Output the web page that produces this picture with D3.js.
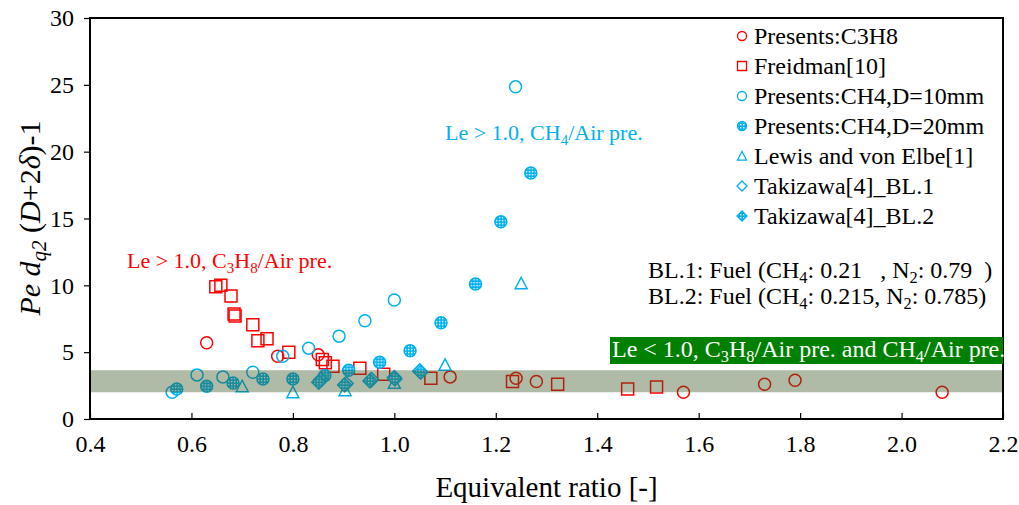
<!DOCTYPE html>
<html>
<head>
<meta charset="utf-8">
<script src="https://cdn.jsdelivr.net/npm/d3@7"></script>
<style>
body { margin: 0; background: #fff; }
svg, text { font-family: "Liberation Serif", "Times New Roman", serif; }
</style>
</head>
<body>
<div id="chart"></div>
<script>
// data
const c3h8X = [0.63, 0.77, 0.85, 1.11, 1.24, 1.28, 1.57, 1.73, 1.79, 2.08];
const c3h8Y = [5.7, 4.7, 4.8, 3.15, 3.05, 2.8, 2.0, 2.6, 2.9, 2.0];

const freidmanX = [0.648, 0.658, 0.678, 0.684, 0.686, 0.721, 0.731, 0.749, 0.792, 0.858, 0.864, 0.879, 0.932, 0.979, 1.072, 1.233, 1.322, 1.46, 1.517];
const freidmanY = [9.9, 10.0, 9.2, 7.85, 7.7, 7.05, 5.85, 6.0, 5.0, 4.45, 4.2, 3.95, 3.8, 3.35, 3.05, 2.8, 2.6, 2.25, 2.4];

const ch4d10X = [0.562, 0.611, 0.662, 0.721, 0.78, 0.831, 0.891, 0.942, 1.0, 1.239];
const ch4d10Y = [2.0, 3.3, 3.15, 3.5, 4.7, 5.3, 6.2, 7.35, 8.9, 24.85];

const ch4d20X = [0.571, 0.63, 0.682, 0.741, 0.8, 0.863, 0.91, 0.971, 1.031, 1.092, 1.16, 1.21, 1.269];
const ch4d20Y = [2.25, 2.45, 2.7, 3.0, 3.0, 3.25, 3.65, 4.25, 5.1, 7.2, 10.1, 14.75, 18.4];

const lewisX = [0.7, 0.8, 0.903, 1.0, 1.1, 1.25];
const lewisY = [2.45, 2.0, 2.15, 2.7, 4.05, 10.15];

const bl1X = [0.855, 0.905, 0.955, 1.0, 1.05];
const bl1Y = [2.95, 2.65, 2.95, 3.1, 3.6];

const bl2X = [0.851, 0.902, 0.952, 1.001, 1.052];
const bl2Y = [2.75, 2.55, 2.85, 3.0, 3.5];

const xTicks = [0.4, 0.6, 0.8, 1.0, 1.2, 1.4, 1.6, 1.8, 2.0, 2.2];
const yTicks = [0, 5, 10, 15, 20, 25, 30];
const band = [2.0, 3.65];

const series = [
	{ name: "Presents:C3H8", x: c3h8X, y: c3h8Y, shape: "circle", color: "#ff0000", fill: "none" },
	{ name: "Freidman[10]", x: freidmanX, y: freidmanY, shape: "square", color: "#ff0000", fill: "none" },
	{ name: "Presents:CH4,D=10mm", x: ch4d10X, y: ch4d10Y, shape: "circle", color: "#00b0f0", fill: "none" },
	{ name: "Presents:CH4,D=20mm", x: ch4d20X, y: ch4d20Y, shape: "circle", color: "#00b0f0", fill: "url(#dots)" },
	{ name: "Lewis and von Elbe[1]", x: lewisX, y: lewisY, shape: "triangle", color: "#00b0f0", fill: "none" },
	{ name: "Takizawa[4]_BL.1", x: bl1X, y: bl1Y, shape: "diamond", color: "#00b0f0", fill: "none" },
	{ name: "Takizawa[4]_BL.2", x: bl2X, y: bl2Y, shape: "diamond", color: "#00b0f0", fill: "url(#dots)" }
];

const W = 1019, H = 505;
const margin = { top: 18, right: 16, bottom: 86, left: 90 };
const FONT = "'Liberation Serif', 'Times New Roman', serif";

const svg = d3.select("#chart").append("svg")
	.attr("width", W)
	.attr("height", H)
	.style("font-family", FONT);

// little dotted fill used by the "hatched" markers
const pat = svg.append("defs").append("pattern")
	.attr("id", "dots")
	.attr("patternUnits", "userSpaceOnUse")
	.attr("width", 3).attr("height", 3);
pat.append("rect").attr("width", 3).attr("height", 3).attr("fill", "#00b0f0");
pat.append("rect").attr("x", 1).attr("y", 1).attr("width", 1.4).attr("height", 1.4).attr("fill", "#ffffff");

const x = d3.scaleLinear().domain([0.4, 2.2]).range([margin.left, W - margin.right]);
const y = d3.scaleLinear().domain([0, 30]).range([H - margin.bottom, margin.top]);

// path for a marker centred on 0,0
function shapePath(shape, s) {
	const h = s / 2;
	if (shape === "circle") return `M${h},0A${h},${h} 0 1,1 ${-h},0A${h},${h} 0 1,1 ${h},0Z`;
	if (shape === "square") return `M${-h},${-h}H${h}V${h}H${-h}Z`;
	if (shape === "triangle") return `M0,${-h}L${h},${h * 0.9}H${-h}Z`;
	if (shape === "diamond") return `M0,${-h}L${h},0L0,${h}L${-h},0Z`;
}

// markers
const marks = svg.append("g");
series.forEach(function (s) {
	const pts = s.x.map(function (v, i) { return [v, s.y[i]]; });
	marks.append("g")
		.selectAll("path")
		.data(pts)
		.join("path")
		.attr("transform", function (d) { return `translate(${x(d[0])},${y(d[1])})`; })
		.attr("d", shapePath(s.shape, s.shape === "diamond" ? 14 : 12))
		.attr("fill", s.fill)
		.attr("stroke", s.color)
		.attr("stroke-width", 1.5);
});

// shaded band sits over the markers
svg.append("rect")
	.attr("x", x(0.4))
	.attr("y", y(band[1]))
	.attr("width", x(2.2) - x(0.4))
	.attr("height", y(band[0]) - y(band[1]))
	.attr("fill", "#375520")
	.attr("opacity", 0.4);

// axes
const xAxis = svg.append("g")
	.attr("transform", `translate(0,${y(0)})`)
	.call(d3.axisBottom(x).tickValues(xTicks).tickSize(-6).tickPadding(16).tickFormat(d3.format(".1f")));
const yAxis = svg.append("g")
	.attr("transform", `translate(${x(0.4)},0)`)
	.call(d3.axisLeft(y).tickValues(yTicks).tickSize(6).tickPadding(10));
[xAxis, yAxis].forEach(function (a) {
	a.attr("font-family", null).style("font-family", FONT);
	a.select(".domain").remove();
	a.selectAll("line").attr("stroke", "#000").attr("stroke-width", 1.2);
	a.selectAll("text").attr("font-size", 24).attr("fill", "#000");
});

// frame
svg.append("rect")
	.attr("x", x(0.4)).attr("y", y(30))
	.attr("width", x(2.2) - x(0.4)).attr("height", y(0) - y(30))
	.attr("fill", "none").attr("stroke", "#000").attr("stroke-width", 2);

// text with subscripts: parts are [text, "sub" | "back"]
function richText(g, parts, px, py, size, color) {
	const t = g.append("text")
		.attr("x", px).attr("y", py)
		.attr("font-size", size)
		.attr("fill", color);
	parts.forEach(function (p) {
		const ts = t.append("tspan").text(p[0]);
		if (p[1] === "sub") ts.attr("font-size", size * 0.68).attr("dy", size * 0.22);
		else if (p[1] === "back") ts.attr("dy", -size * 0.22);
	});
	return t;
}

// axis titles
svg.append("text")
	.attr("x", x(1.3)).attr("y", 497)
	.attr("text-anchor", "middle")
	.attr("font-size", 29)
	.text("Equivalent ratio [-]");

const yl = svg.append("text")
	.attr("transform", "translate(40,218) rotate(-90)")
	.attr("text-anchor", "middle")
	.attr("font-size", 30);
yl.append("tspan").attr("font-style", "italic").text("Pe d");
yl.append("tspan").attr("font-style", "italic").attr("font-size", 21).attr("dy", 6).text("q2");
yl.append("tspan").attr("dy", -6).text(" (");
yl.append("tspan").attr("font-style", "italic").text("D");
yl.append("tspan").text("+2");
yl.append("tspan").attr("font-style", "italic").text("δ");
yl.append("tspan").text(")-1");

// annotations
const ann = svg.append("g");
richText(ann, [["Le > 1.0, C"], ["3", "sub"], ["H", "back"], ["8", "sub"], ["/Air pre.", "back"]], 127, 268, 22, "#ff0000");
richText(ann, [["Le > 1.0, CH"], ["4", "sub"], ["/Air pre.", "back"]], 445, 140, 22, "#00b0f0");
richText(ann, [["BL.1: Fuel (CH"], ["4", "sub"], [": 0.21\u00a0\u00a0 , N", "back"], ["2", "sub"], [": 0.79\u00a0\u00a0)", "back"]], 648, 278, 24, "#000");
richText(ann, [["BL.2: Fuel (CH"], ["4", "sub"], [": 0.215, N", "back"], ["2", "sub"], [": 0.785)", "back"]], 648, 304, 24, "#000");

ann.append("rect")
	.attr("x", 610).attr("y", 337)
	.attr("width", x(2.2) - 610).attr("height", 27)
	.attr("fill", "#008000");
richText(ann, [["Le < 1.0, C"], ["3", "sub"], ["H", "back"], ["8", "sub"], ["/Air pre. and CH", "back"], ["4", "sub"], ["/Air pre.", "back"]], 612, 357, 24, "#ffffff");

// legend
const legend = svg.append("g");
series.forEach(function (s, i) {
	const ly = 36 + i * 30;
	legend.append("path")
		.attr("transform", `translate(742,${ly})`)
		.attr("d", shapePath(s.shape, s.shape === "diamond" ? 10 : 9))
		.attr("fill", s.fill)
		.attr("stroke", s.color)
		.attr("stroke-width", 1.3);
	legend.append("text")
		.attr("x", 754).attr("y", ly + 8)
		.attr("font-size", 24)
		.text(s.name);
});
</script>
</body>
</html>
